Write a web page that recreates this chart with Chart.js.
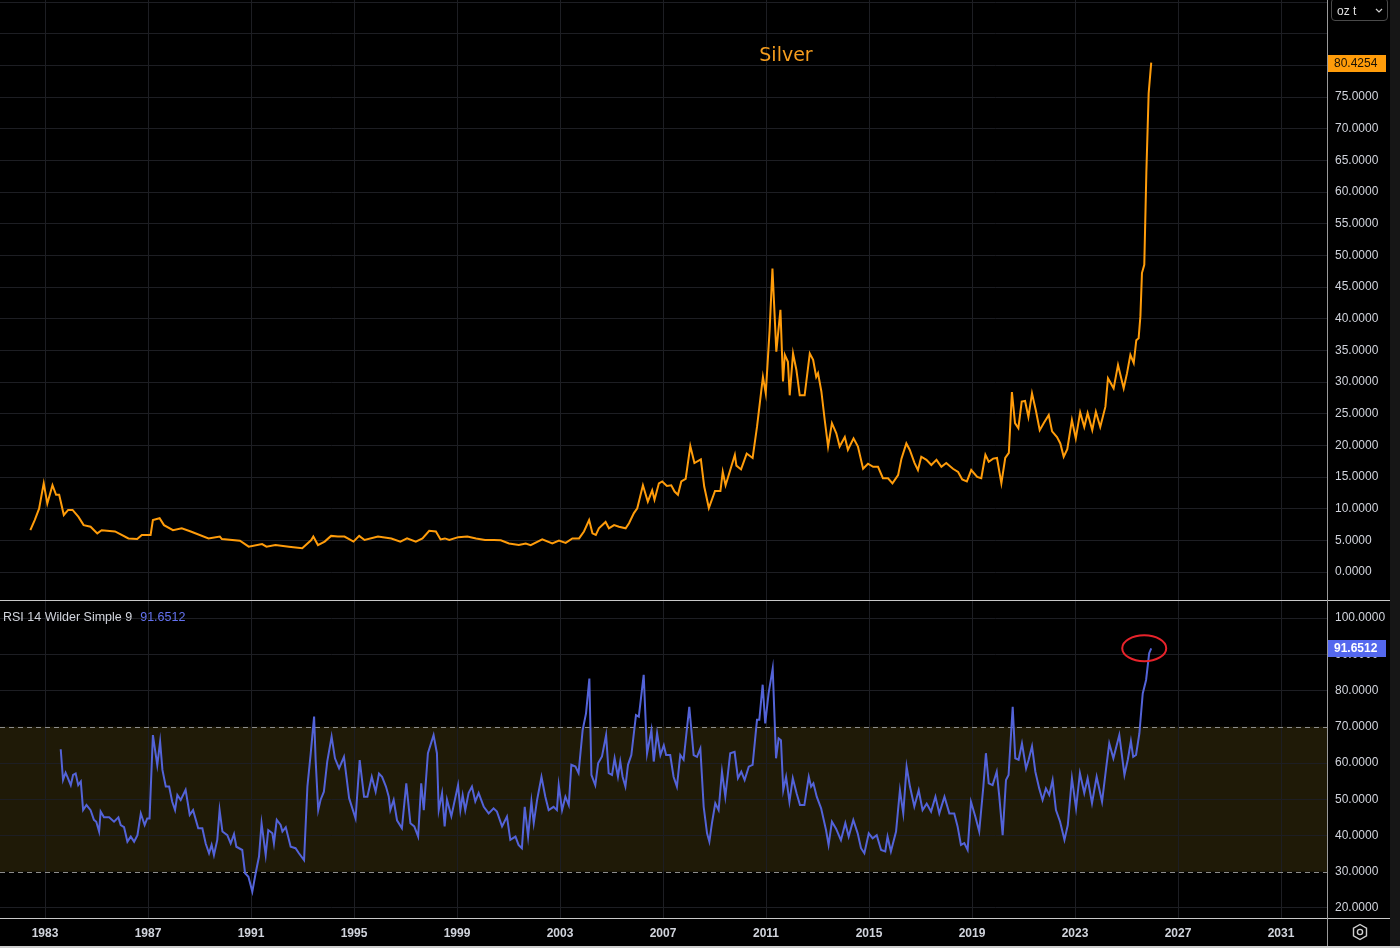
<!DOCTYPE html>
<html>
<head>
<meta charset="utf-8">
<script src="https://cdn.jsdelivr.net/npm/chart.js@4.4.1/dist/chart.umd.min.js"></script>
<style>
  html, body { margin: 0; padding: 0; background: #000; }
  #wrap { position: relative; width: 1400px; height: 948px; background: #000; overflow: hidden; font-family: "Liberation Sans", Arial, sans-serif; }
  canvas { position: absolute; left: 0; }
  #top { top: 0; }
  #bottom { top: 600px; }
  .hline { position: absolute; left: 0; width: 1390px; height: 1px; background: #c8c8c8; }
  #vline { position: absolute; left: 1327px; top: 0; width: 1px; height: 948px; background: #9a9a9a; }
  #strip { position: absolute; left: 1390px; top: 0; width: 10px; height: 948px; background: #161616; }
  #edge { position: absolute; left: 0; top: 946px; width: 1400px; height: 2px; background: #cfcfcf; }
  #title { position: absolute; left: 736px; width: 100px; top: 43px; text-align: center; font-family: "DejaVu Sans", sans-serif; font-size: 19px; color: #f59d1e; }
  #rsiLegend { position: absolute; left: 3px; top: 610px; font-size: 12.5px; color: #d1d4dc; white-space: nowrap; }
  #rsiLegend span { color: #6472f0; margin-left: 8px; }
  #unit { position: absolute; left: 1331px; top: -2px; width: 57px; height: 23px; border: 1px solid #4a4a4a; border-radius: 4px; box-sizing: border-box; font-size: 12px; color: #e0e0e0; }
  #unit .txt { position: absolute; left: 5px; top: 5px; }
  #unit svg { position: absolute; right: 4px; top: 9px; }
  #gear { position: absolute; left: 1351px; top: 923px; }
</style>
</head>
<body>
<div id="wrap">
  <canvas id="top" width="1390" height="600"></canvas>
  <canvas id="bottom" width="1390" height="348"></canvas>
  <div class="hline" style="top:600px"></div>
  <div class="hline" style="top:918px"></div>
  <div id="vline"></div>
  <div id="strip"></div>
  <div id="edge"></div>
  <div id="title">Silver</div>
  <div id="rsiLegend">RSI 14 Wilder Simple 9<span>91.6512</span></div>
  <div id="unit"><span class="txt">oz t</span>
    <svg width="8" height="5" viewBox="0 0 8 5"><path d="M1 1 L4 4 L7 1" stroke="#cfcfcf" stroke-width="1.2" fill="none"/></svg>
  </div>
  <svg id="gear" width="18" height="18" viewBox="0 0 18 18">
    <path d="M9 1.5 L15.5 5.25 L15.5 12.75 L9 16.5 L2.5 12.75 L2.5 5.25 Z" stroke="#d0d0d0" stroke-width="1.4" fill="none"/>
    <circle cx="9" cy="9" r="2.6" stroke="#d0d0d0" stroke-width="1.4" fill="none"/>
  </svg>
</div>
<script>
// Silver price (USD / oz t), date as decimal year
const priceDates = [
  1982.43, 1982.6, 1982.77, 1982.95, 1983.09, 1983.29, 1983.43, 1983.55, 1983.73, 1983.9,
  1984.07, 1984.3, 1984.5, 1984.77, 1985.03, 1985.2, 1985.72, 1986.24, 1986.58, 1986.76,
  1987.1, 1987.19, 1987.45, 1987.62, 1987.97, 1988.31, 1988.66, 1989.35, 1989.79, 1989.87,
  1990.57, 1990.91, 1991.43, 1991.6, 1991.95, 1992.47, 1992.99, 1993.34, 1993.42, 1993.6,
  1993.86, 1994.11, 1994.37, 1994.63, 1994.98, 1995.2, 1995.41, 1995.93, 1996.45, 1996.8,
  1997.06, 1997.4, 1997.66, 1997.92, 1998.18, 1998.36, 1998.53, 1998.7, 1999.05, 1999.4,
  1999.74, 2000.09, 2000.43, 2000.7, 2001.02, 2001.4, 2001.67, 2001.86, 2002.31, 2002.7,
  2002.96, 2003.22, 2003.48, 2003.74, 2003.93, 2004.13, 2004.26, 2004.39, 2004.51, 2004.77,
  2004.9, 2005.1, 2005.29, 2005.55, 2005.68, 2005.87, 2006.0, 2006.22, 2006.41, 2006.58,
  2006.67, 2006.84, 2006.97, 2007.15, 2007.32, 2007.45, 2007.58, 2007.71, 2007.88, 2008.06,
  2008.22, 2008.47, 2008.6, 2008.78, 2009.02, 2009.23, 2009.32, 2009.43, 2009.64, 2009.79,
  2009.85, 2010.03, 2010.25, 2010.48, 2010.65, 2010.88, 2010.99, 2011.14, 2011.25, 2011.4,
  2011.56, 2011.66, 2011.73, 2011.85, 2011.92, 2012.05, 2012.18, 2012.31, 2012.5, 2012.7,
  2012.83, 2012.95, 2013.02, 2013.15, 2013.28, 2013.41, 2013.56, 2013.73, 2013.86, 2014.06,
  2014.18, 2014.4, 2014.57, 2014.77, 2014.96, 2015.16, 2015.35, 2015.54, 2015.74, 2015.91,
  2016.13, 2016.26, 2016.45, 2016.58, 2016.77, 2016.9, 2017.03, 2017.23, 2017.42, 2017.62,
  2017.81, 2018.0, 2018.26, 2018.46, 2018.62, 2018.8, 2018.97, 2019.2, 2019.36, 2019.52,
  2019.65, 2019.82, 2019.97, 2020.14, 2020.29, 2020.43, 2020.55, 2020.67, 2020.8, 2020.93,
  2021.06, 2021.19, 2021.33, 2021.48, 2021.63, 2021.8, 2021.98, 2022.11, 2022.3, 2022.43,
  2022.56, 2022.7, 2022.88, 2023.03, 2023.2, 2023.36, 2023.49, 2023.67, 2023.81, 2023.98,
  2024.18, 2024.28, 2024.5, 2024.67, 2024.89, 2025.02, 2025.15, 2025.28, 2025.38, 2025.47,
  2025.54, 2025.6, 2025.69, 2025.77, 2025.86, 2025.96
];
const priceValues = [
  6.6, 8.2, 10.0, 14.0, 10.8, 13.7, 12.2, 12.2, 9.0, 9.8,
  9.8, 8.7, 7.4, 7.15, 6.1, 6.6, 6.4, 5.3, 5.2, 5.85,
  5.85, 8.2, 8.5, 7.4, 6.6, 6.9, 6.4, 5.3, 5.6, 5.2,
  4.95, 4.0, 4.4, 4.0, 4.25, 4.0, 3.75, 5.05, 5.6, 4.25,
  4.8, 5.7, 5.6, 5.6, 4.8, 5.7, 5.05, 5.6, 5.3, 4.8,
  5.3, 4.8, 5.3, 6.5, 6.4, 5.15, 5.3, 5.05, 5.5, 5.6,
  5.3, 5.05, 5.05, 5.0, 4.5, 4.25, 4.5, 4.25, 5.15, 4.5,
  4.95, 4.6, 5.3, 5.3, 6.4, 8.2, 6.1, 5.85, 6.9, 7.9,
  6.9, 7.4, 7.15, 6.9, 7.7, 9.3, 10.05, 13.7, 11.1, 12.9,
  11.4, 14.0, 14.3, 13.6, 13.7, 12.7, 12.2, 14.3, 14.7, 19.9,
  17.2, 17.8, 13.5, 10.1, 12.8, 12.8, 15.8, 13.7, 16.5, 18.5,
  16.8, 16.2, 18.7, 18.0, 22.9, 30.8, 28.2, 38.2, 47.9, 34.8,
  41.4, 30.1, 34.3, 33.2, 27.9, 34.5, 31.9, 27.9, 27.9, 34.5,
  33.5, 30.8, 31.4, 28.5, 24.0, 19.8, 23.5, 21.9, 19.8, 21.3,
  19.3, 21.1, 19.8, 16.3, 17.1, 16.6, 16.6, 14.8, 14.8, 14.0,
  15.3, 17.9, 20.3, 19.3, 17.2, 16.1, 18.2, 17.7, 16.9, 17.7,
  16.6, 17.2, 16.3, 15.8, 14.6, 14.3, 16.1, 15.0, 14.8, 18.5,
  17.4, 17.9, 18.0, 14.0, 18.0, 18.8, 28.4, 23.5, 22.7, 26.9,
  27.0, 24.5, 28.2, 25.5, 22.4, 23.6, 24.8, 22.2, 21.3, 20.3,
  18.2, 19.4, 24.0, 21.1, 25.2, 22.9, 25.1, 22.4, 25.3, 22.9,
  26.1, 30.6, 29.0, 32.7, 29.0, 31.4, 34.3, 33.0, 36.6, 36.9,
  40.4, 47.2, 48.5, 63.0, 75.6, 80.4254
];

// RSI 14 (Wilder)
const rsiDates = [
  1983.61, 1983.7, 1983.8, 1983.87, 1984.0, 1984.09, 1984.19, 1984.29, 1984.39, 1984.48,
  1984.61, 1984.77, 1984.9, 1984.99, 1985.1, 1985.16, 1985.29, 1985.49, 1985.68, 1985.85,
  1985.94, 1986.07, 1986.2, 1986.33, 1986.46, 1986.59, 1986.72, 1986.87, 1986.97, 1987.06,
  1987.19, 1987.36, 1987.47, 1987.56, 1987.69, 1987.82, 1987.94, 1988.05, 1988.14, 1988.27,
  1988.46, 1988.62, 1988.75, 1988.95, 1989.11, 1989.24, 1989.37, 1989.47, 1989.56, 1989.69,
  1989.78, 1989.89, 1990.08, 1990.21, 1990.34, 1990.43, 1990.66, 1990.77, 1990.9, 1991.05,
  1991.18, 1991.31, 1991.41, 1991.57, 1991.67, 1991.83, 1991.89, 1992.0, 1992.15, 1992.22,
  1992.35, 1992.54, 1992.73, 1992.86, 1993.06, 1993.19, 1993.32, 1993.45, 1993.51, 1993.61,
  1993.7, 1993.83, 1993.96, 1994.13, 1994.26, 1994.42, 1994.61, 1994.81, 1995.06, 1995.22,
  1995.39, 1995.52, 1995.69, 1995.84, 1995.97, 1996.09, 1996.24, 1996.35, 1996.41, 1996.54,
  1996.67, 1996.86, 1997.03, 1997.19, 1997.34, 1997.49, 1997.61, 1997.71, 1997.87, 1998.09,
  1998.22, 1998.29, 1998.42, 1998.52, 1998.61, 1998.78, 1999.04, 1999.13, 1999.22, 1999.32,
  1999.45, 1999.58, 1999.71, 1999.84, 2000.04, 2000.23, 2000.42, 2000.55, 2000.75, 2000.94,
  2001.07, 2001.27, 2001.39, 2001.52, 2001.63, 2001.76, 2001.89, 2001.98, 2002.11, 2002.28,
  2002.43, 2002.56, 2002.75, 2002.88, 2002.95, 2003.08, 2003.21, 2003.34, 2003.44, 2003.6,
  2003.72, 2003.88, 2004.01, 2004.14, 2004.22, 2004.37, 2004.48, 2004.63, 2004.79, 2004.89,
  2005.02, 2005.12, 2005.25, 2005.34, 2005.43, 2005.54, 2005.64, 2005.77, 2005.95, 2006.06,
  2006.25, 2006.38, 2006.55, 2006.64, 2006.77, 2006.9, 2007.03, 2007.12, 2007.28, 2007.41,
  2007.54, 2007.67, 2007.8, 2008.02, 2008.19, 2008.32, 2008.45, 2008.58, 2008.71, 2008.8,
  2008.9, 2009.03, 2009.16, 2009.29, 2009.42, 2009.61, 2009.78, 2009.91, 2010.04, 2010.17,
  2010.33, 2010.48, 2010.65, 2010.74, 2010.87, 2010.97, 2011.1, 2011.26, 2011.39, 2011.49,
  2011.58, 2011.67, 2011.78, 2011.91, 2012.04, 2012.19, 2012.32, 2012.49, 2012.66, 2012.75,
  2012.84, 2012.97, 2013.14, 2013.33, 2013.43, 2013.56, 2013.72, 2013.91, 2014.08, 2014.21,
  2014.39, 2014.56, 2014.69, 2014.82, 2014.99, 2015.14, 2015.3, 2015.47, 2015.63, 2015.72,
  2015.85, 2016.05, 2016.2, 2016.33, 2016.46, 2016.59, 2016.76, 2016.93, 2017.08, 2017.24,
  2017.41, 2017.58, 2017.73, 2017.93, 2018.12, 2018.31, 2018.44, 2018.57, 2018.7, 2018.83,
  2018.96, 2019.13, 2019.28, 2019.44, 2019.54, 2019.65, 2019.8, 2019.96, 2020.06, 2020.19,
  2020.32, 2020.42, 2020.58, 2020.68, 2020.81, 2020.94, 2021.1, 2021.2, 2021.33, 2021.46,
  2021.61, 2021.74, 2021.87, 2022.0, 2022.13, 2022.26, 2022.42, 2022.59, 2022.72, 2022.88,
  2023.04, 2023.19, 2023.36, 2023.49, 2023.66, 2023.84, 2024.05, 2024.2, 2024.33, 2024.49,
  2024.72, 2024.92, 2025.05, 2025.17, 2025.26, 2025.37, 2025.5, 2025.63, 2025.76, 2025.88,
  2025.96
];
const rsiValues = [
  63.8, 55.3, 57.3, 56.2, 53.9, 56.7, 57.1, 53.9, 54.9, 47.0,
  48.4, 47.0, 44.3, 43.8, 41.1, 46.6, 45.0, 45.0, 43.8, 45.0,
  42.9, 42.3, 38.3, 39.7, 38.3, 40.1, 46.1, 42.9, 44.7, 44.7,
  67.7, 59.4, 65.9, 58.1, 53.5, 53.5, 49.3, 47.0, 51.2, 49.8,
  52.6, 45.7, 47.0, 42.0, 42.0, 37.8, 35.1, 37.4, 34.6, 38.8,
  47.0, 41.1, 40.1, 37.8, 40.4, 36.9, 36.0, 29.6, 28.6, 24.5,
  29.6, 34.2, 43.4, 34.6, 41.5, 40.6, 37.8, 44.3, 42.9, 41.1,
  42.3, 36.9, 36.5, 35.1, 33.2, 53.5, 62.7, 72.8, 60.8, 47.0,
  49.8, 52.1, 60.4, 67.3, 61.3, 58.5, 61.7, 50.3, 44.7, 60.8,
  50.7, 50.7, 56.2, 52.1, 57.1, 56.2, 53.5, 50.7, 47.0, 49.8,
  44.2, 42.0, 54.4, 43.4, 42.5, 39.7, 54.4, 47.0, 62.7, 67.7,
  62.7, 47.0, 51.7, 42.5, 49.9, 45.3, 53.9, 47.0, 51.1, 47.0,
  51.7, 53.5, 49.4, 51.7, 47.9, 46.1, 47.5, 46.6, 42.5, 45.2,
  38.8, 39.7, 37.4, 36.5, 47.9, 39.7, 49.4, 43.4, 49.8, 56.2,
  50.7, 47.0, 47.9, 47.0, 53.9, 47.0, 50.7, 48.4, 59.5, 59.0,
  57.2, 69.1, 73.7, 83.3, 56.7, 53.9, 59.9, 61.8, 67.7, 57.2,
  56.7, 61.3, 56.2, 60.4, 56.2, 53.5, 59.5, 62.2, 73.2, 72.8,
  84.3, 62.6, 69.1, 60.4, 68.2, 62.2, 64.9, 62.2, 62.2, 56.2,
  53.5, 62.2, 60.9, 75.5, 62.2, 61.7, 64.0, 47.9, 40.6, 38.3,
  43.4, 48.9, 47.0, 57.6, 50.7, 62.7, 63.1, 55.8, 57.6, 55.3,
  59.0, 59.5, 71.9, 71.9, 81.6, 70.9, 79.2, 86.1, 61.3, 66.8,
  66.3, 52.5, 56.2, 49.3, 55.8, 51.6, 48.4, 48.4, 56.2, 53.5,
  54.4, 50.7, 47.5, 41.5, 37.4, 43.8, 41.9, 38.7, 43.4, 39.7,
  44.3, 40.6, 36.5, 35.1, 40.6, 39.2, 40.1, 36.0, 35.6, 39.7,
  35.6, 41.1, 52.5, 46.1, 59.0, 53.5, 48.0, 52.5, 47.0, 48.8,
  46.6, 50.7, 46.1, 50.7, 46.1, 46.1, 42.5, 37.4, 37.9, 36.0,
  49.3, 45.2, 41.1, 53.5, 62.7, 54.4, 53.9, 57.6, 50.7, 40.1,
  55.3, 56.7, 75.5, 61.3, 60.9, 65.4, 58.5, 60.9, 64.6, 57.6,
  53.0, 49.8, 53.0, 51.2, 55.3, 47.0, 43.8, 38.8, 42.9, 55.8,
  47.5, 57.2, 51.7, 55.8, 48.9, 56.2, 49.3, 58.1, 65.4, 61.3,
  67.7, 56.7, 60.9, 66.0, 61.7, 62.2, 68.2, 79.2, 82.9, 90.3,
  91.6512
];

const yearTicks = [1983, 1987, 1991, 1995, 1999, 2003, 2007, 2011, 2015, 2019, 2023, 2027, 2031];
const priceTicks = [0, 5, 10, 15, 20, 25, 30, 35, 40, 45, 50, 55, 60, 65, 70, 75, 80, 85, 90];
const rsiTicks = [20, 30, 40, 50, 60, 70, 80, 90, 100];
const rsiBand = [30, 70];

const X_MIN = 1981.252, X_MAX = 2032.786;
const GRID = '#1d1e23';
const LABEL = '#d1d4dc';

function fixedAxis(width) {
    return (s) => { s.width = width; s.paddingTop = 0; s.paddingBottom = 0; };
}
function fixedXAxis(height) {
    return (s) => { s.height = height; s.paddingLeft = 0; s.paddingRight = 0; };
}

// last-value tag drawn in the price scale
function tagPlugin(value, bg, fg, bold) {
    return {
        id: 'tag',
        afterDraw(chart) {
            const c = chart.ctx;
            const y = chart.scales.y.getPixelForValue(value);
            const x = chart.chartArea.right;
            c.save();
            c.fillStyle = bg;
            c.fillRect(x + 1, Math.round(y) - 8, 58, 17);
            c.fillStyle = fg;
            c.font = (bold ? 'bold ' : '') + '12px "Liberation Sans", Arial, sans-serif';
            c.textBaseline = 'middle';
            c.fillText(value.toFixed(4), x + 7, Math.round(y) + 1);
            c.restore();
        }
    };
}

const priceChart = new Chart(document.getElementById('top'), {
    type: 'line',
    data: {
        datasets: [{
            data: priceDates.map((d, i) => ({ x: d, y: priceValues[i] })),
            borderColor: '#ff9c0a',
            borderWidth: 2,
            pointRadius: 0,
            tension: 0
        }]
    },
    options: {
        responsive: false,
        animation: false,
        layout: { padding: 0 },
        plugins: { legend: { display: false }, tooltip: { enabled: false } },
        scales: {
            x: {
                type: 'linear', min: X_MIN, max: X_MAX,
                afterBuildTicks: s => { s.ticks = yearTicks.map(v => ({ value: v })); },
                afterFit: fixedXAxis(0),
                ticks: { display: false },
                grid: { color: GRID, drawTicks: false },
                border: { display: false }
            },
            y: {
                position: 'right', min: -4.421, max: 90.316,
                afterBuildTicks: s => { s.ticks = priceTicks.map(v => ({ value: v })); },
                afterFit: fixedAxis(63),
                ticks: {
                    color: LABEL, padding: 8,
                    font: { size: 12, family: '"Liberation Sans", Arial, sans-serif' },
                    callback: v => v >= 80 ? '' : v.toFixed(4)
                },
                grid: { color: GRID, drawTicks: false },
                border: { display: false }
            }
        }
    },
    plugins: [tagPlugin(priceValues[priceValues.length - 1], '#ff9c0a', '#1a1205', false)]
});

// 30-70 band, dashed bounds and the red highlight ring
const rsiDecor = {
    id: 'rsiDecor',
    beforeDraw(chart) {
        const c = chart.ctx, a = chart.chartArea, y = chart.scales.y;
        const top = y.getPixelForValue(rsiBand[1]), bot = y.getPixelForValue(rsiBand[0]);
        c.save();
        c.fillStyle = '#1f1a07';
        c.fillRect(a.left, top, a.right - a.left, bot - top);
        c.restore();
    },
    beforeDatasetsDraw(chart) {
        const c = chart.ctx, a = chart.chartArea, y = chart.scales.y;
        c.save();
        c.strokeStyle = '#8c8c8c';
        c.lineWidth = 1;
        c.setLineDash([5, 4]);
        rsiBand.forEach(v => {
            const py = Math.round(y.getPixelForValue(v)) + 0.5;
            c.beginPath();
            c.moveTo(a.left, py);
            c.lineTo(a.right, py);
            c.stroke();
        });
        c.restore();
    },
    afterDatasetsDraw(chart) {
        const c = chart.ctx, x = chart.scales.x, y = chart.scales.y;
        const cx = x.getPixelForValue(rsiDates[rsiDates.length - 1]) - 7;
        const cy = y.getPixelForValue(rsiValues[rsiValues.length - 1]);
        c.save();
        c.strokeStyle = '#e8232b';
        c.lineWidth = 2;
        c.beginPath();
        c.ellipse(cx, cy, 22, 13, 0, 0, Math.PI * 2);
        c.stroke();
        c.restore();
    }
};

const rsiChart = new Chart(document.getElementById('bottom'), {
    type: 'line',
    data: {
        datasets: [{
            data: rsiDates.map((d, i) => ({ x: d, y: rsiValues[i] })),
            borderColor: '#5363d8',
            borderWidth: 2,
            pointRadius: 0,
            tension: 0
        }]
    },
    options: {
        responsive: false,
        animation: false,
        layout: { padding: 0 },
        plugins: { legend: { display: false }, tooltip: { enabled: false } },
        scales: {
            x: {
                type: 'linear', min: X_MIN, max: X_MAX,
                afterBuildTicks: s => { s.ticks = yearTicks.map(v => ({ value: v })); },
                afterFit: fixedXAxis(30),
                ticks: {
                    color: LABEL, padding: 8, autoSkip: false, maxRotation: 0,
                    font: { size: 12, weight: 'bold', family: '"Liberation Sans", Arial, sans-serif' },
                    callback: v => String(v)
                },
                grid: { color: GRID, drawTicks: false },
                border: { display: false }
            },
            y: {
                position: 'right', min: 17.241, max: 104.966,
                afterBuildTicks: s => { s.ticks = rsiTicks.map(v => ({ value: v })); },
                afterFit: fixedAxis(63),
                ticks: {
                    color: LABEL, padding: 8,
                    font: { size: 12, family: '"Liberation Sans", Arial, sans-serif' },
                    callback: v => v.toFixed(4)
                },
                grid: {
                    drawTicks: false,
                    color: ctx => (ctx.tick && rsiBand.includes(ctx.tick.value)) ? 'rgba(0,0,0,0)' : GRID
                },
                border: { display: false }
            }
        }
    },
    plugins: [rsiDecor, tagPlugin(rsiValues[rsiValues.length - 1], '#5468ee', '#ffffff', true)]
});
</script>
</body>
</html>
